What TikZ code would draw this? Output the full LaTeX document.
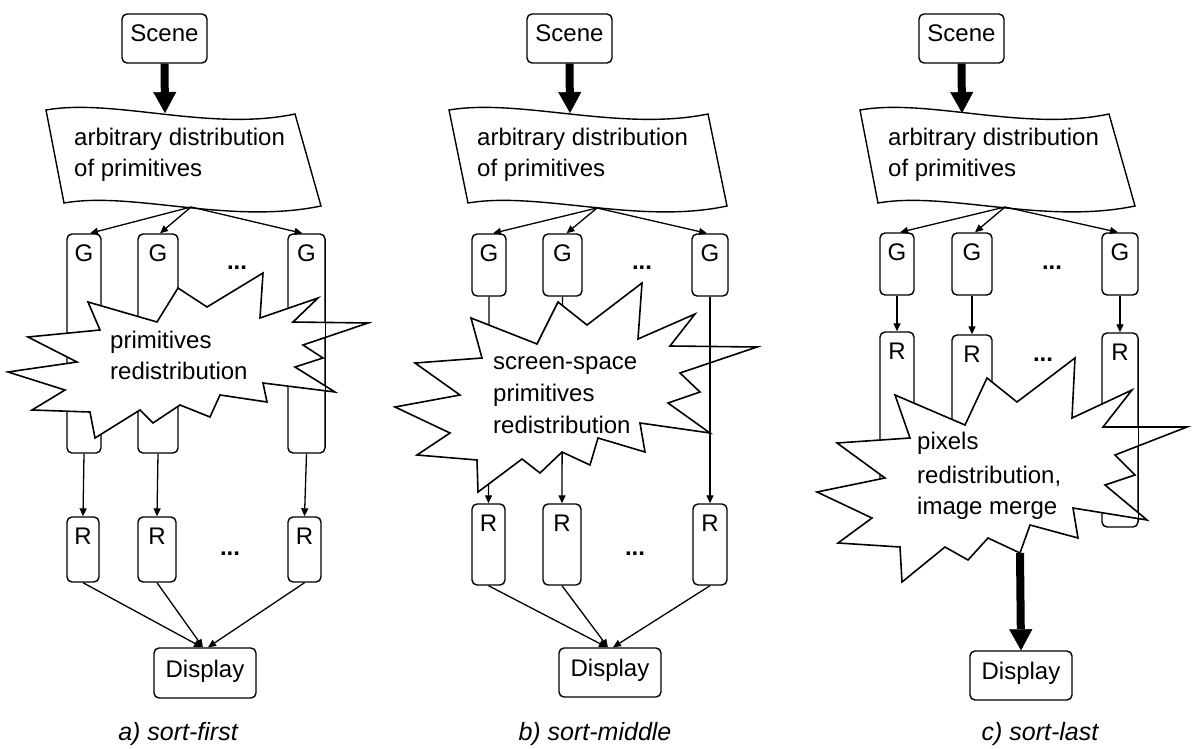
\documentclass[tikz,border=0pt]{standalone}
\usepackage{fontspec}
\setmainfont{Liberation Sans}
\usetikzlibrary{arrows.meta,calc}

\tikzset{
  rbox/.style={draw, line width=1.4pt, rounded corners=5pt, fill=white, inner sep=0pt},
  lbl/.style={anchor=base, inner sep=0pt, font=\fontsize{24}{31}\selectfont},
  lbll/.style={anchor=base west, inner sep=0pt, font=\fontsize{24}{31}\selectfont},
  dots/.style={anchor=base, inner sep=0pt, font=\fontsize{24}{31}\selectfont\bfseries},
  capt/.style={anchor=base, inner sep=0pt, font=\fontsize{25}{31}\selectfont\itshape},
  link/.style={line width=1.3pt, -{Triangle[length=8pt,width=7pt]}},
  plain/.style={line width=1.4pt},
  fat/.style={line width=8pt, -{Triangle[length=21pt,width=23pt,line width=0.4pt]}},
  burst/.style={draw, line width=1.6pt, fill=white, line join=miter},
  doc/.style={draw, line width=1.4pt, fill=white},
}

\begin{document}
\begin{tikzpicture}[x=1pt,y=-1pt]
\useasboundingbox (0,0) rectangle (1192,749);

%% ---------------- a) sort-first ----------------
\node[rbox, minimum width=85pt, minimum height=49pt] (sceneA) at (164.5,38.5) {};
\node[lbl] (sceneAt) at ($(sceneA.center)+(0,3.5)$) {Scene};
\draw[doc] (46,110) .. controls (114,98) and (210,132) .. (295,114) -- (321,206)
           .. controls (229,225) and (133,191) .. (64,203) -- cycle;
\node[lbll] (docAt1) at (74,146) {arbitrary distribution};
\node[lbll] (docAt2) at (74,177) {of primitives};
\coordinate (docA-in) at (165,113);
\coordinate (docA-out) at (191,207);
\draw[fat] (sceneA.south) -- (docA-in);

\node[rbox, minimum width=34pt, minimum height=219pt] (ga1) at (84,343.5) {};
\node[rbox, minimum width=40pt, minimum height=219pt] (ga2) at (158,343.5) {};
\node[rbox, minimum width=37pt, minimum height=219pt] (ga3) at (306.5,343.5) {};
\node[lbl] (ga1t) at ($(ga1.north)+(0,28)$) {G};
\node[lbl] (ga2t) at ($(ga2.north)+(0,28)$) {G};
\node[lbl] (ga3t) at ($(ga3.north)+(0,28)$) {G};
\node[dots] (gaDots) at (237,269) {...};
\draw[link] (docA-out) -- ([xshift=6pt]ga1.north);
\draw[link] (docA-out) -- ([xshift=2pt]ga2.north);
\draw[link] (docA-out) -- ([xshift=-4pt]ga3.north);

\node[rbox, minimum width=32pt, minimum height=65pt] (ra1) at (83,549.5) {};
\node[rbox, minimum width=38pt, minimum height=65pt] (ra2) at (157,549.5) {};
\node[rbox, minimum width=33pt, minimum height=65pt] (ra3) at (304.5,549.5) {};
\node[lbl] (ra1t) at ($(ra1.north)+(0,28)$) {R};
\node[lbl] (ra2t) at ($(ra2.north)+(0,28)$) {R};
\node[lbl] (ra3t) at ($(ra3.north)+(0,28)$) {R};
\node[dots] (raDots) at (230,555) {...};
\draw[link] (ga1.south) -- (ra1.north);
\draw[link] (ga2.south) -- (ra2.north);
\draw[link] (ga3.south) -- (ra3.north);

\node[rbox, minimum width=102pt, minimum height=50pt] (dispA) at (205,673) {};
\node[lbl] (dispAt) at ($(dispA.center)+(0,4)$) {Display};
\draw[link] (ra1.south) -- ([xshift=-3pt]dispA.north);
\draw[link] (ra2.south) -- ([xshift=-2pt]dispA.north);
\draw[link] (ra3.south) -- ([xshift=3pt]dispA.north);

\draw[burst] (88,302) -- (157,322) -- (178,288) -- (207,307) -- (263,273) -- (260,318)
  -- (318,298) -- (293,322) -- (368,323) -- (303,345) -- (323,358) -- (295,367)
  -- (335,392) -- (263,383) -- (267,402) -- (220,395) -- (210,417) -- (180,405)
  -- (153,423) -- (140,410) -- (95,438) -- (90,412) -- (32,410) -- (65,390)
  -- (8,372) -- (77,362) -- (28,337) -- (100,330) -- cycle;
\draw[plain] ([yshift=-6pt]ga3.north east) -- ([yshift=6pt]ga3.south east);
\node[lbll] (burstAt1) at (110,348) {primitives};
\node[lbll] (burstAt2) at (110,379) {redistribution};

\node[capt] (capA) at (178,740) {a) sort-first};

%% ---------------- b) sort-middle ----------------
\node[rbox, minimum width=85pt, minimum height=49pt] (sceneB) at (569.5,38.5) {};
\node[lbl] (sceneBt) at ($(sceneB.center)+(0,3.5)$) {Scene};
\draw[doc] (449,110) .. controls (520,98) and (620,132) .. (708,114) -- (727,206)
           .. controls (639,225) and (539,191) .. (468,203) -- cycle;
\node[lbll] (docBt1) at (477,146) {arbitrary distribution};
\node[lbll] (docBt2) at (477,177) {of primitives};
\coordinate (docB-in) at (570,113);
\coordinate (docB-out) at (597,208);
\draw[fat] (sceneB.south) -- (docB-in);

\node[rbox, minimum width=34pt, minimum height=62pt] (gb1) at (489,265) {};
\node[rbox, minimum width=39pt, minimum height=62pt] (gb2) at (562.5,265) {};
\node[rbox, minimum width=36pt, minimum height=62pt] (gb3) at (710,265) {};
\node[lbl] (gb1t) at ($(gb1.north)+(0,28)$) {G};
\node[lbl] (gb2t) at ($(gb2.north)+(0,28)$) {G};
\node[lbl] (gb3t) at ($(gb3.north)+(0,28)$) {G};
\node[dots] (gbDots) at (642,269) {...};
\draw[link] (docB-out) -- ([xshift=4pt]gb1.north);
\draw[link] (docB-out) -- ([xshift=4pt]gb2.north);
\draw[link] (docB-out) -- ([xshift=-3pt]gb3.north);

\node[rbox, minimum width=33pt, minimum height=81pt] (rb1) at (488.5,544.5) {};
\node[rbox, minimum width=38pt, minimum height=81pt] (rb2) at (562,544.5) {};
\node[rbox, minimum width=34pt, minimum height=81pt] (rb3) at (710,544.5) {};
\node[lbl] (rb1t) at ($(rb1.north)+(0,28)$) {R};
\node[lbl] (rb2t) at ($(rb2.north)+(0,28)$) {R};
\node[lbl] (rb3t) at ($(rb3.north)+(0,28)$) {R};
\node[dots] (rbDots) at (635,555) {...};
\draw[link] (gb1.south) -- (rb1.north);
\draw[link] (gb2.south) -- (rb2.north);

\node[rbox, minimum width=102pt, minimum height=49pt] (dispB) at (610,672.5) {};
\node[lbl] (dispBt) at ($(dispB.center)+(0,4)$) {Display};
\draw[link] (rb1.south) -- ([xshift=-3pt]dispB.north);
\draw[link] (rb2.south) -- ([xshift=-2pt]dispB.north);
\draw[link] (rb3.south) -- ([xshift=3pt]dispB.north);

\draw[burst] (471,318) -- (537,344) -- (558,302) -- (587,325) -- (642,283) -- (638,339)
  -- (695,314) -- (670,346) -- (757,347) -- (680,373) -- (700,392) -- (668,403)
  -- (710,433) -- (640,423) -- (645,452) -- (598,438) -- (590,465) -- (562,452)
  -- (540,473) -- (522,459) -- (478,492) -- (477,460) -- (417,455) -- (450,433)
  -- (395,407) -- (460,395) -- (415,363) -- (482,358) -- cycle;
\draw[link] (gb3.south) -- (rb3.north);
\node[lbll] (burstBt1) at (493,369) {screen-space};
\node[lbll] (burstBt2) at (493,401) {primitives};
\node[lbll] (burstBt3) at (493,433) {redistribution};

\node[capt] (capB) at (595,740) {b) sort-middle};

%% ---------------- c) sort-last ----------------
\node[rbox, minimum width=85pt, minimum height=49pt] (sceneC) at (961.5,38.5) {};
\node[lbl] (sceneCt) at ($(sceneC.center)+(0,3.5)$) {Scene};
\draw[doc] (860,110) .. controls (928,98) and (1024,132) .. (1109,114) -- (1135,206)
           .. controls (1043,225) and (947,191) .. (878,203) -- cycle;
\node[lbll] (docCt1) at (888,146) {arbitrary distribution};
\node[lbll] (docCt2) at (888,177) {of primitives};
\coordinate (docC-in) at (962,113);
\coordinate (docC-out) at (1005,207);
\draw[fat] (sceneC.south) -- (docC-in);

\node[rbox, minimum width=34pt, minimum height=62pt] (gc1) at (897,264) {};
\node[rbox, minimum width=40pt, minimum height=62pt] (gc2) at (972,264) {};
\node[rbox, minimum width=36pt, minimum height=62pt] (gc3) at (1120,264) {};
\node[lbl] (gc1t) at ($(gc1.north)+(0,28)$) {G};
\node[lbl] (gc2t) at ($(gc2.north)+(0,28)$) {G};
\node[lbl] (gc3t) at ($(gc3.north)+(0,28)$) {G};
\node[dots] (gcDots) at (1052,269) {...};
\draw[link] (docC-out) -- ([xshift=3pt]gc1.north);
\draw[link] (docC-out) -- ([xshift=3pt]gc2.north);
\draw[link] (docC-out) -- ([xshift=-2pt]gc3.north);

\node[rbox, minimum width=34pt, minimum height=195pt] (rc1) at (897,429.5) {};
\node[rbox, minimum width=40pt, minimum height=192pt] (rc2) at (972,431) {};
\node[rbox, minimum width=36pt, minimum height=194pt] (rc3) at (1120,430) {};
\node[lbl] (rc1t) at ($(rc1.north)+(0,28)$) {R};
\node[lbl] (rc2t) at ($(rc2.north)+(0,28)$) {R};
\node[lbl] (rc3t) at ($(rc3.north)+(0,28)$) {R};
\node[dots] (rcDots) at (1043,361) {...};
\draw[link] (gc1.south) -- (rc1.north);
\draw[link] (gc2.south) -- (rc2.north);
\draw[link] (gc3.south) -- (rc3.north);

\draw[burst] (895,395) -- (965,425) -- (987,378) -- (1017,402) -- (1075,358) -- (1072,418)
  -- (1132,390) -- (1103,427) -- (1187,427) -- (1115,455) -- (1135,475) -- (1105,485)
  -- (1147,520) -- (1073,508) -- (1078,538) -- (1030,525) -- (1020,553) -- (988,538)
  -- (968,560) -- (945,547) -- (902,582) -- (900,547) -- (838,543) -- (872,518)
  -- (817,492) -- (885,478) -- (837,443) -- (910,438) -- cycle;
\draw[plain] ([yshift=-6pt]rc3.north east) -- ([yshift=6pt]rc3.south east);
\coordinate (burstC-out) at (1020,553);
\node[lbll] (burstCt1) at (917,449) {pixels};
\node[lbll] (burstCt2) at (917,483) {redistribution,};
\node[lbll] (burstCt3) at (917,514) {image merge};

\node[rbox, minimum width=102pt, minimum height=49pt] (dispC) at (1021,675.5) {};
\node[lbl] (dispCt) at ($(dispC.center)+(0,4)$) {Display};
\draw[fat] (burstC-out) -- (dispC.north);

\node[capt] (capC) at (1040,740) {c) sort-last};
\end{tikzpicture}
\end{document}
